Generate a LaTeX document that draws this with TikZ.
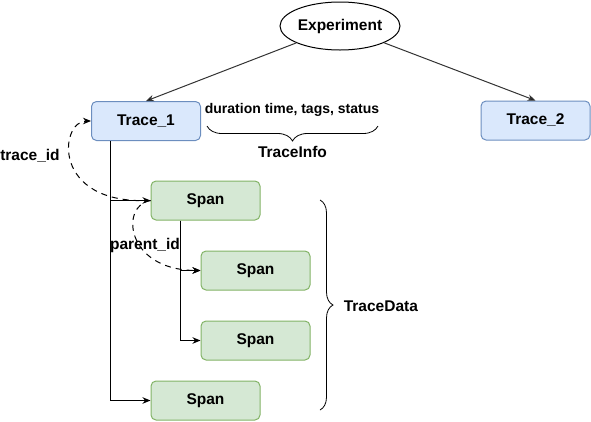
\documentclass[tikz,border=0pt]{standalone}
\usepackage{fontspec}
\setmainfont{Liberation Sans}
\usetikzlibrary{shapes.geometric,arrows.meta,decorations.pathreplacing}
\definecolor{tracefill}{HTML}{DAE8FC}
\definecolor{traceline}{HTML}{6C8EBF}
\definecolor{spanfill}{HTML}{D5E8D4}
\definecolor{spanline}{HTML}{82B366}

\begin{document}
\begin{tikzpicture}[x=1pt,y=-1pt,line width=1pt,>={Stealth[length=8pt,width=6.5pt]},
  every node/.style={font=\fontsize{15.5}{18}\selectfont\bfseries},
  trace/.style={draw=traceline,fill=tracefill,rounded corners=5pt,minimum width=109pt,minimum height=39pt},
  span/.style={draw=spanline,fill=spanfill,rounded corners=5pt,minimum width=109pt,minimum height=39pt},
  ids/.style={dash pattern=on 6pt off 5pt},
  brc/.style={decorate,line width=0.8pt}]
  \useasboundingbox (0,0) rectangle (591,421);
  \node[ellipse,draw,inner sep=0pt,minimum width=120pt,minimum height=48pt] (exp) at (340,26) {Experiment};
  \node[trace] (t1) at (146,121) {Trace\_1};
  \node[trace] (t2) at (535.5,120.5) {Trace\_2};
  \node[span] (s1) at (205.5,200.5) {Span};
  \node[span] (s2) at (255.5,270.5) {Span};
  \node[span] (s3) at (255.5,340.5) {Span};
  \node[span] (s4) at (205.5,400.5) {Span};
  \node[font=\fontsize{14}{16}\selectfont\bfseries] (info) at (292,110) {duration time, tags, status};
  \node (infolbl) at (292.5,152) {TraceInfo};
  \node[anchor=west] (datalbl) at (340,306) {TraceData};
  \node (tid) at (30,156) {trace\_id};
  \node (pid) at (145,245) {parent\_id};
  \coordinate (infoL) at (207,126);
  \coordinate (infoR) at (378,126);
  \coordinate (dataT) at (320,200);
  \coordinate (dataB) at (320,410);
  \path[->,draw=black!80]
    (exp) edge (t1.north)
    (exp) edge (t2.north);
  \draw[->] ([xshift=-36pt]t1.south) |- (s1.west);
  \draw[->] ([xshift=-36pt]t1.south) |- (s4.west);
  \draw[->] ([xshift=-25pt]s1.south) |- (s2.west);
  \draw[->] ([xshift=-25pt]s1.south) |- (s3.west);
  \draw[->,ids] (s1.west) .. controls (50,205) and (60,121) .. (t1.west);
  \draw[->,ids] (s1.west) .. controls (120,205) and (125,270) .. (s2.west);
  \draw[brc,decoration={brace,mirror,amplitude=15pt}] (infoL) -- (infoR);
  \draw[brc,decoration={brace,amplitude=13pt}] (dataT) -- (dataB);
\end{tikzpicture}
\end{document}
